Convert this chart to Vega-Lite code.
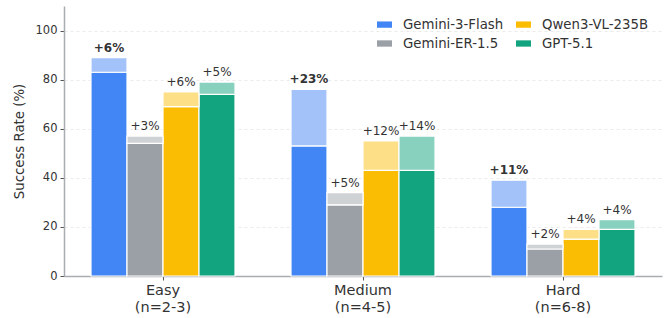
{
  "$schema": "https://vega.github.io/schema/vega-lite/v6.json",
  "width": 598,
  "height": 270,
  "autosize": "none",
  "padding": {"left": 64, "top": 6, "right": 3, "bottom": 42},
  "background": "white",
  "config": {
    "font": "DejaVu Sans",
    "view": {"stroke": null},
    "axis": {"labelFont": "DejaVu Sans", "titleFont": "DejaVu Sans"},
    "legend": {
      "labelFont": "DejaVu Sans",
      "labelFontSize": 13.3,
      "labelColor": "#333333",
      "labelOffset": 11,
      "columnPadding": 12,
      "rowPadding": 5,
      "symbolSize": 225,
      "symbolStrokeWidth": 0,
      "labelLimit": 300
    }
  },
  "data": {
    "values": [
      {"difficulty": "Easy (n=2-3)", "model": "Gemini-3-Flash", "base": 83, "total": 89, "gain": "+6%", "bold": 1},
      {"difficulty": "Easy (n=2-3)", "model": "Gemini-ER-1.5", "base": 54, "total": 57, "gain": "+3%", "bold": 0},
      {"difficulty": "Easy (n=2-3)", "model": "Qwen3-VL-235B", "base": 69, "total": 75, "gain": "+6%", "bold": 0},
      {"difficulty": "Easy (n=2-3)", "model": "GPT-5.1", "base": 74, "total": 79, "gain": "+5%", "bold": 0},
      {"difficulty": "Medium (n=4-5)", "model": "Gemini-3-Flash", "base": 53, "total": 76, "gain": "+23%", "bold": 1},
      {"difficulty": "Medium (n=4-5)", "model": "Gemini-ER-1.5", "base": 29, "total": 34, "gain": "+5%", "bold": 0},
      {"difficulty": "Medium (n=4-5)", "model": "Qwen3-VL-235B", "base": 43, "total": 55, "gain": "+12%", "bold": 0},
      {"difficulty": "Medium (n=4-5)", "model": "GPT-5.1", "base": 43, "total": 57, "gain": "+14%", "bold": 0},
      {"difficulty": "Hard (n=6-8)", "model": "Gemini-3-Flash", "base": 28, "total": 39, "gain": "+11%", "bold": 1},
      {"difficulty": "Hard (n=6-8)", "model": "Gemini-ER-1.5", "base": 11, "total": 13, "gain": "+2%", "bold": 0},
      {"difficulty": "Hard (n=6-8)", "model": "Qwen3-VL-235B", "base": 15, "total": 19, "gain": "+4%", "bold": 0},
      {"difficulty": "Hard (n=6-8)", "model": "GPT-5.1", "base": 19, "total": 23, "gain": "+4%", "bold": 0}
    ]
  },
  "encoding": {
    "x": {
      "field": "difficulty",
      "type": "nominal",
      "sort": ["Easy (n=2-3)", "Medium (n=4-5)", "Hard (n=6-8)"],
      "scale": {"paddingInner": 0.28, "paddingOuter": 0.135},
      "axis": {
        "title": null,
        "labelAngle": 0,
        "labelExpr": "split(datum.value, ' ')",
        "labelFontSize": 14.5,
        "labelColor": "#333333",
        "labelPadding": 3,
        "labelLineHeight": 17,
        "domainColor": "#a9adb2",
        "domainWidth": 1.5,
        "tickColor": "#555555",
        "tickSize": 4,
        "grid": false
      }
    },
    "xOffset": {
      "field": "model",
      "type": "nominal",
      "sort": ["Gemini-3-Flash", "Gemini-ER-1.5", "Qwen3-VL-235B", "GPT-5.1"],
      "scale": {"paddingInner": 0, "paddingOuter": 0}
    }
  },
  "layer": [
    {
      "mark": {"type": "bar", "stroke": "white", "strokeWidth": 1.2},
      "encoding": {
        "y": {
          "field": "base",
          "type": "quantitative",
          "scale": {"domain": [0, 110], "nice": false},
          "axis": {
            "title": "Success Rate (%)",
            "titleFontSize": 13.3,
            "titleFontWeight": "normal",
            "titleColor": "#333333",
            "titlePadding": 9,
            "values": [0, 20, 40, 60, 80, 100],
            "labelFontSize": 11.5,
            "labelColor": "#333333",
            "labelPadding": 3,
            "domainColor": "#a9adb2",
            "domainWidth": 1.5,
            "tickColor": "#555555",
            "tickSize": 4,
            "grid": true,
            "gridColor": "#e6e6e6",
            "gridDash": [3, 3],
            "gridWidth": 0.8
          }
        },
        "color": {
          "field": "model",
          "type": "nominal",
          "scale": {
            "domain": ["Gemini-3-Flash", "Gemini-ER-1.5", "Qwen3-VL-235B", "GPT-5.1"],
            "range": ["#4285F4", "#9AA0A6", "#FBBC04", "#12A37F"]
          },
          "legend": {
            "title": null,
            "orient": "none",
            "legendX": 313,
            "legendY": 11,
            "columns": 2,
            "labelFontSize": 13.3,
            "symbolType": "M-1,-0.42H1V0.42H-1Z",
            "symbolSize": 225,
            "symbolOpacity": 1
          }
        }
      }
    },
    {
      "mark": {"type": "bar", "stroke": "white", "strokeWidth": 1.2},
      "encoding": {
        "y": {"field": "base", "type": "quantitative"},
        "y2": {"field": "total"},
        "color": {
          "field": "model",
          "type": "nominal",
          "scale": {
            "domain": ["Gemini-3-Flash", "Gemini-ER-1.5", "Qwen3-VL-235B", "GPT-5.1"],
            "range": ["#A3C2F9", "#CFD2D5", "#FDDF87", "#88D1BE"]
          },
          "legend": null
        }
      }
    },
    {
      "transform": [{"filter": "datum.bold == 1"}],
      "mark": {"type": "text", "baseline": "bottom", "dy": -3, "fontSize": 12, "fontWeight": "bold", "color": "#333333"},
      "encoding": {
        "y": {"field": "total", "type": "quantitative"},
        "text": {"field": "gain"}
      }
    },
    {
      "transform": [{"filter": "datum.bold == 0"}],
      "mark": {"type": "text", "baseline": "bottom", "dy": -3, "fontSize": 12, "color": "#333333"},
      "encoding": {
        "y": {"field": "total", "type": "quantitative"},
        "text": {"field": "gain"}
      }
    }
  ],
  "resolve": {"scale": {"color": "independent"}}
}
